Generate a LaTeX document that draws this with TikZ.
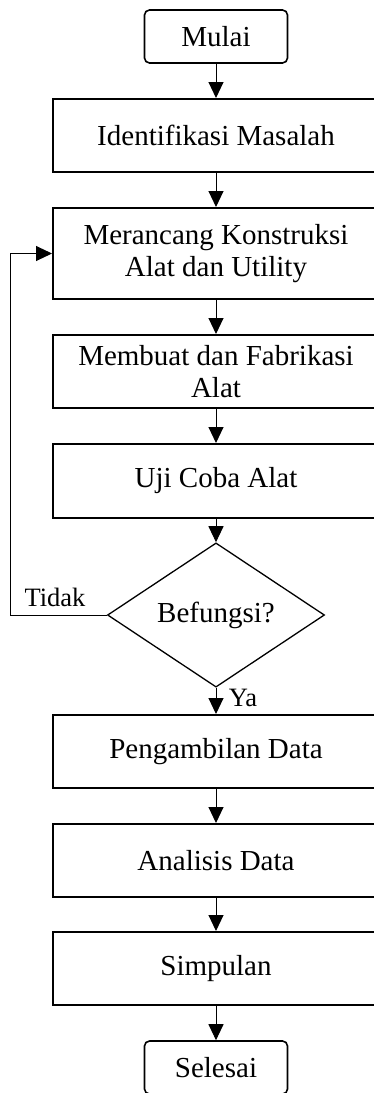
\documentclass[tikz,border=0pt]{standalone}
\usepackage{fontspec}
\setmainfont{Liberation Serif}
\usetikzlibrary{shapes.geometric,arrows.meta}
\begin{document}
\begin{tikzpicture}[x=1pt,y=-1pt,
  txt/.style={font=\fontsize{29}{31.5}\selectfont},
  proc/.style={txt,draw,line width=2pt,inner sep=0pt,minimum width=326pt,minimum height=73pt,align=center},
  term/.style={txt,draw,line width=1.6pt,rounded corners=5pt,inner sep=0pt,minimum width=143pt,minimum height=53pt},
  dec/.style={txt,draw,line width=1.3pt,shape=diamond,inner sep=0pt,minimum width=217pt,minimum height=126pt},
  arr/.style={line width=1pt,-{Triangle[length=16pt,width=15pt]}},
  lbl/.style={font=\fontsize{26.5}{28}\selectfont,inner sep=0pt}]
\useasboundingbox (0,0) rectangle (374,1093);
\clip (0,0) rectangle (374,1093);
\node[term] (mulai) at (216,36.5) {Mulai};
\node[proc] (ident) at (216,135.5) {Identifikasi Masalah};
\node[proc,minimum height=91pt] (meran) at (216,253.5) {Merancang Konstruksi\\Alat dan Utility};
\node[proc] (buat) at (216,371.5) {Membuat dan Fabrikasi\\Alat};
\node[proc,minimum height=74pt] (uji) at (216,481) {Uji Coba Alat};
\node[dec] (fungsi) at (216,615) {Befungsi?};
\node[proc] (ambil) at (216,751.5) {Pengambilan Data};
\node[proc] (anal) at (216,860.5) {Analisis Data};
\node[proc] (simp) at (216,968.5) {Simpulan};
\node[term] (selesai) at (216,1067.5) {Selesai};
\coordinate (loopc) at (10,615);
\draw[arr] (mulai) -- (ident);
\draw[arr] (ident) -- (meran);
\draw[arr] (meran) -- (buat);
\draw[arr] (buat) -- (uji);
\draw[arr] (uji) -- (fungsi);
\draw[arr] (fungsi) -- (ambil);
\draw[arr] (ambil) -- (anal);
\draw[arr] (anal) -- (simp);
\draw[arr] (simp) -- (selesai);
\draw[arr] (fungsi.west) -- (loopc) |- (meran.west);
\node[lbl] (tidak) at (55,597) {Tidak};
\node[lbl] (ya) at (243,698) {Ya};
\end{tikzpicture}
\end{document}
